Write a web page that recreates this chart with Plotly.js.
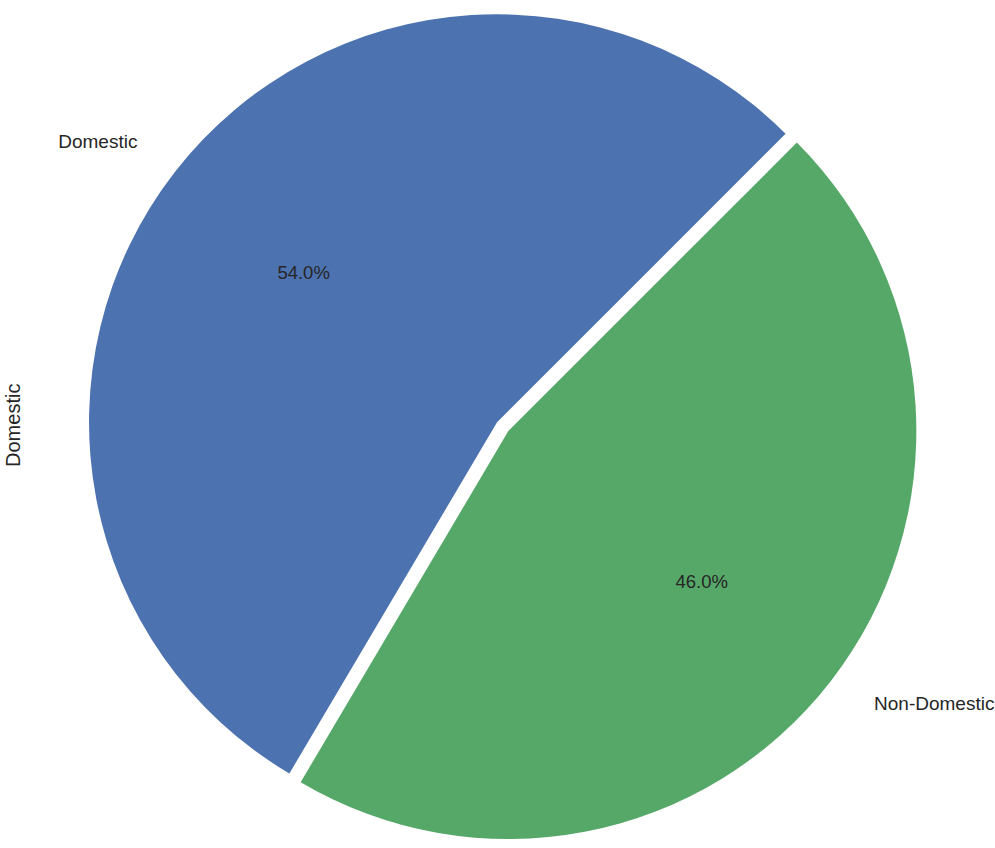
<!DOCTYPE html>
<html>
<head>
<meta charset="utf-8">
<script src="https://cdn.plot.ly/plotly-3.0.1.min.js"></script>
<style>html,body{margin:0;padding:0;background:#fff;}#chart{width:995px;height:848px;}</style>
</head>
<body>
<div id="chart"></div>
<script>
const categories = ["Domestic", "Non-Domestic"];
const values = [54.0, 46.0];
const explode = [0, 0.035];
const colors = ["#4C72B0", "#55A868"];
const yLabel = "Domestic";

// Plotly lays out "counterclockwise" slices so the first one ends at `rotation`;
// feeding the slices in reverse order reproduces matplotlib's startangle=45, counterclock=True.
const rev = a => a.slice().reverse();

const domain = {x: [0.0751, 0.924], y: [0.004, 1]};
const pctFont = {family: "Liberation Sans, Arial, sans-serif", size: 18.5, color: "#262626"};
const lblFont = {family: "Liberation Sans, Arial, sans-serif", size: 19, color: "#262626"};
const clear = ["rgba(0,0,0,0)", "rgba(0,0,0,0)"];

const common = {
  type: "pie",
  labels: rev(categories),
  values: rev(values),
  sort: false,
  direction: "counterclockwise",
  rotation: 45,
  pull: rev(explode),
  domain: domain,
  showlegend: false
};

const wedgeTrace = Object.assign({}, common, {
  marker: {colors: rev(colors), line: {width: 0}},
  textinfo: "none",
  hoverinfo: "label+percent"
});

// transparent ring that carries the percentage text (placed ~0.6 r like autopct)
const percentTrace = Object.assign({}, common, {
  hole: 0.2,
  marker: {colors: clear, line: {width: 0}},
  textinfo: "percent",
  texttemplate: "%{percent:.1%}",
  textposition: "inside",
  insidetextorientation: "horizontal",
  insidetextfont: pctFont,
  hoverinfo: "skip"
});

// transparent pies that carry the category labels outside the wedges (labeldistance ~1.1)
const labelTraceA = Object.assign({}, common, {
  pull: [0, 0],
  domain: {x: [0.0643, 0.818], y: [0.1156, 1]},
  marker: {colors: clear, line: {width: 0}},
  texttemplate: ["", "%{label}"],
  textposition: "outside",
  outsidetextfont: lblFont,
  hoverinfo: "skip"
});

const labelTraceB = Object.assign({}, common, {
  pull: [0, 0],
  domain: {x: [0.184, 0.954], y: [0, 0.9033]},
  marker: {colors: clear, line: {width: 0}},
  texttemplate: ["%{label}", ""],
  textposition: "outside",
  outsidetextfont: lblFont,
  hoverinfo: "skip"
});

const layout = {
  width: 995,
  height: 848,
  margin: {l: 0, r: 0, t: 0, b: 0},
  paper_bgcolor: "#ffffff",
  showlegend: false,
  annotations: [{
    text: yLabel,
    xref: "paper", yref: "paper",
    x: 0.013, y: 0.4988,
    xanchor: "center", yanchor: "middle",
    textangle: -90,
    showarrow: false,
    font: {family: "Liberation Sans, Arial, sans-serif", size: 20, color: "#262626"}
  }]
};

Plotly.newPlot("chart", [wedgeTrace, percentTrace, labelTraceA, labelTraceB], layout, {displayModeBar: false, staticPlot: true});
</script>
</body>
</html>
